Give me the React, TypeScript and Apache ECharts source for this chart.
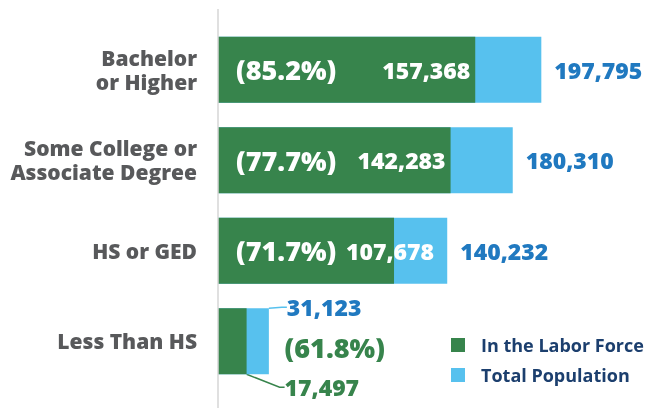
import React, { useEffect, useRef } from 'react';
import * as echarts from 'echarts';

const categories = ['Bachelor\nor Higher', 'Some College or\nAssociate Degree', 'HS or GED', 'Less Than HS'];
const laborForce = [157368, 142283, 107678, 17497];
const totalPopulation = [197795, 180310, 140232, 31123];
const participation = ['(85.2%)', '(77.7%)', '(71.7%)', '(61.8%)'];
const legendNames = ['In the Labor Force', 'Total Population'];

const GREEN = '#37844c';
const BLUE = '#57c1ee';
const BLUE_TEXT = '#2079c0';
const GRAY = '#58595b';
const NAVY = '#1c3f6e';
const FONT = '"Open Sans", "Noto Sans", sans-serif';
const HEAVY = 800;

const fmt = (v: number) => v.toLocaleString('en-US');
const LAST = categories.length - 1;

export default function App() {
  const ref = useRef<HTMLDivElement>(null);
  useEffect(() => {
    if (!ref.current) return;
    const chart = echarts.init(ref.current, null, { renderer: 'svg' });
    const option: any = {
      animation: false,
      grid: { left: 218, right: 8, top: 24.5, bottom: 21.5 },
      xAxis: { type: 'value', min: 0, max: 260000, show: false },
      yAxis: {
        type: 'category',
        data: categories,
        inverse: true,
        axisLine: { show: false },
        axisTick: { show: false },
        axisLabel: {
          fontFamily: FONT,
          fontSize: 21,
          fontWeight: HEAVY,
          color: GRAY,
          margin: 21,
          lineHeight: 24,
          align: 'right',
        },
      },
      legend: {
        data: legendNames,
        orient: 'vertical',
        left: 446,
        top: 330,
        icon: 'rect',
        itemWidth: 14,
        itemHeight: 14,
        itemGap: 10,
        selectedMode: false,
        textStyle: { fontFamily: FONT, fontSize: 18, fontWeight: 'bold', color: NAVY, padding: [0, 0, 0, 11], lineHeight: 20 },
      },
      graphic: [
        { type: 'line', shape: { x1: 218, y1: 9, x2: 218, y2: 408 }, style: { stroke: '#d6d6d6', lineWidth: 1.5 }, z: 10 },
      ],
      series: [
        {
          name: 'Total Population',
          type: 'bar',
          barWidth: 66,
          barGap: '-100%',
          itemStyle: { color: BLUE },
          data: totalPopulation.map((v, i) =>
            i === LAST ? { value: v, labelLine: { show: true, length2: 5, lineStyle: { color: BLUE, width: 1.5 } } } : v
          ),
          label: {
            show: true,
            position: 'right',
            distance: 13,
            color: BLUE_TEXT,
            fontFamily: FONT,
            fontSize: 23,
            fontWeight: HEAVY,
            formatter: (p: any) => fmt(p.value),
          },
          labelLayout: (p: any) =>
            p.dataIndex === LAST
              ? { x: p.rect.x + p.rect.width + 18, y: p.rect.y - 1, align: 'left', verticalAlign: 'middle' }
              : {},
        },
        {
          name: 'In the Labor Force',
          type: 'bar',
          barWidth: 66,
          barGap: '-100%',
          itemStyle: { color: GREEN },
          data: laborForce.map((v, i) =>
            i === LAST
              ? { value: v, label: { color: GREEN }, labelLine: { show: true, length2: 5, lineStyle: { color: GREEN, width: 1.5 } } }
              : v
          ),
          label: {
            show: true,
            position: 'insideRight',
            distance: 5,
            color: '#fff',
            fontFamily: FONT,
            fontSize: 23,
            fontWeight: HEAVY,
            formatter: (p: any) => fmt(p.value),
          },
          labelLayout: (p: any) => {
            if (p.dataIndex === LAST)
              return { x: p.rect.x + p.rect.width + 38, y: p.rect.y + p.rect.height + 13, align: 'left', verticalAlign: 'middle' };
            if (p.dataIndex === 2) return { dx: 45 };
            return {};
          },
        },
        {
          name: 'participation',
          type: 'bar',
          barWidth: 66,
          barGap: '-100%',
          itemStyle: { color: 'rgba(0,0,0,0)' },
          data: laborForce.map((v, i) => (i === LAST ? { value: v, label: { color: GREEN } } : v)),
          label: {
            show: true,
            position: 'insideLeft',
            distance: 18,
            color: '#fff',
            fontFamily: FONT,
            fontSize: 27,
            fontWeight: HEAVY,
            formatter: (p: any) => participation[p.dataIndex],
          },
          labelLayout: (p: any) =>
            p.dataIndex === LAST
              ? { x: p.rect.x + p.rect.width + 38, y: p.rect.y + p.rect.height / 2 + 6, align: 'left', verticalAlign: 'middle' }
              : {},
        },
      ],
    };
    chart.setOption(option);
    return () => chart.dispose();
  }, []);
  return <div ref={ref} style={{ position: 'fixed', left: 0, top: 0, width: 651, height: 408 }} />;
}
